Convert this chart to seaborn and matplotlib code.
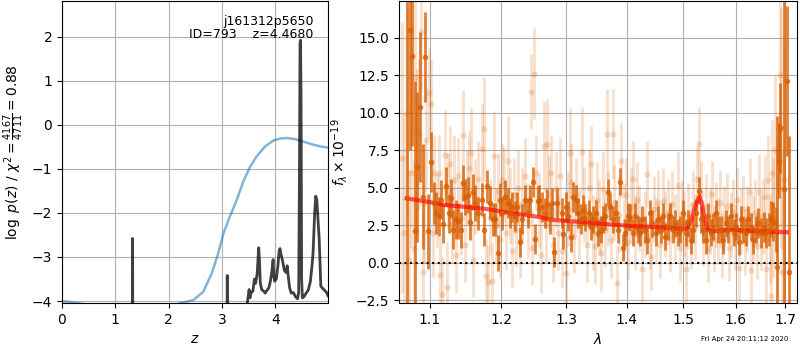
import matplotlib
matplotlib.use("Agg")
import matplotlib.pyplot as plt
import seaborn as sns
import numpy as np
import pandas as pd
from matplotlib.ticker import FixedLocator, FixedFormatter, NullLocator, NullFormatter

# ---------------- data: left panel ----------------
chi_z = [0.0, 0.2, 0.4, 0.6, 1.0, 1.5, 2.0, 2.214, 2.46, 2.65, 2.81, 2.93, 3.03, 3.15,
         3.28, 3.40, 3.53, 3.65, 3.81, 3.96, 4.1, 4.22, 4.35, 4.47, 4.6, 4.71, 4.85, 5.0]
chi_val = [-4.0, -4.03, -4.07, -4.1, -4.14, -4.16, -4.15, -4.05, -3.98, -3.79, -3.37,
           -2.92, -2.46, -2.08, -1.70, -1.29, -0.95, -0.72, -0.49, -0.36, -0.31, -0.30,
           -0.32, -0.36, -0.41, -0.45, -0.49, -0.52]

pz_z = [0.0, 1.30, 1.318, 1.325, 1.332, 1.35, 3.08, 3.093, 3.10, 3.107, 3.12, 3.46, 3.47,
        3.51, 3.525, 3.55, 3.58, 3.61, 3.63, 3.66, 3.69, 3.705, 3.72, 3.75, 3.78, 3.81,
        3.85, 3.88, 3.91, 3.94, 3.96, 3.975, 3.99, 4.02, 4.05, 4.075, 4.09, 4.11, 4.14,
        4.17, 4.20, 4.225, 4.245, 4.27, 4.30, 4.34, 4.38, 4.42, 4.44, 4.455, 4.465, 4.475,
        4.485, 4.495, 4.51, 4.54, 4.58, 4.62, 4.66, 4.69, 4.71, 4.74, 4.76, 4.78, 4.80,
        4.825, 4.855, 4.88, 4.92, 4.96, 4.99]
pz_val = [-9, -9, -9, -2.58, -9, -9, -9, -9, -3.42, -9, -9, -9, -4.1,
          -3.74, -3.93, -3.8, -3.78, -3.5, -3.6, -3.4, -2.79, -3.1, -3.6, -3.75, -3.77, -3.82,
          -3.75, -3.7, -3.55, -3.3, -3.06, -3.45, -3.55, -3.5, -3.2, -2.85, -2.81, -2.95, -3.1,
          -3.3, -3.35, -3.2, -3.45, -3.7, -3.82, -3.81, -3.9, -3.95, -3.8, -1.0, 1.85, 1.92,
          0.5, -3.5, -3.93, -3.9, -3.82, -3.75, -3.55, -3.2, -2.9, -2.0, -1.62, -1.7, -2.1,
          -2.6, -3.66, -3.7, -3.75, -3.8, -3.88]

# ---------------- data: right panel ----------------
wave_dark = [1.069, 1.073, 1.076, 1.080, 1.083, 1.086, 1.090, 1.093, 1.097, 1.101,
             1.105, 1.108, 1.112, 1.115, 1.118, 1.122, 1.126, 1.129, 1.132, 1.135,
             1.138, 1.142, 1.145, 1.148, 1.152, 1.155, 1.160, 1.163, 1.166,
             1.172, 1.175, 1.180, 1.184, 1.188, 1.191, 1.195, 1.198, 1.202, 1.206,
             1.210, 1.213, 1.217, 1.221, 1.224, 1.228, 1.232, 1.236, 1.240, 1.243,
             1.248, 1.251, 1.255, 1.258, 1.262, 1.266, 1.270, 1.274, 1.277, 1.281, 1.285,
             1.293, 1.295, 1.299, 1.303, 1.307, 1.311, 1.315, 1.319, 1.323, 1.327,
             1.331, 1.336, 1.340, 1.344, 1.348, 1.352, 1.356, 1.360, 1.364, 1.368,
             1.372, 1.376, 1.381, 1.385, 1.389, 1.393, 1.397, 1.402, 1.406, 1.410,
             1.415, 1.419, 1.423, 1.427, 1.432, 1.436, 1.440, 1.444, 1.451, 1.455,
             1.460, 1.464, 1.468, 1.473, 1.477, 1.481, 1.486, 1.491, 1.495, 1.500,
             1.505, 1.509, 1.514, 1.519, 1.524, 1.529, 1.533, 1.538, 1.543, 1.547,
             1.552, 1.557, 1.562, 1.566, 1.571, 1.576, 1.581, 1.586, 1.591, 1.596,
             1.601, 1.606, 1.610, 1.615, 1.620, 1.625, 1.630, 1.635, 1.640, 1.645,
             1.650, 1.656, 1.660, 1.666, 1.671, 1.676, 1.681, 1.684, 1.688, 1.690,
             1.697, 1.704, 1.709]
flux_dark = [4.31, 15.5, 13.8, 2.1, 6.4, 10.4, 4.4, 13.7, 2.1, 6.7,
             4.0, 3.3, 3.1, 4.2, 2.6, 5.1, 3.3, 4.3, 2.2, 2.9,
             2.8, 2.2, 5.3, 4.4, 4.5, 2.75, 4.7, 4.0, 3.3,
             4.2, 2.2, 5.1, 4.0, 2.9, 2.9, 0.65, 4.2, 3.3, 4.4,
             4.0, 3.3, 3.75, 3.1, 3.75, 1.4, 2.9, 4.2, 3.3, 4.2,
             5.4, 1.6, 4.1, 4.2, 3.75, 3.3, 3.9, 2.9, 4.0, 0.7, 4.0,
             3.3, 1.9, 3.75, 3.1, 1.75, 4.4, 4.2, 3.3, 2.9, 3.5,
             3.0, 3.3, 2.4, 2.9, 3.3, 2.0, 2.2, 2.9, 3.1, 4.7,
             3.75, 2.9, 3.3, 2.2, 5.4, 1.0, 2.0, 3.1, 3.0, 2.0,
             3.1, 2.2, 2.0, 2.9, 2.2, 1.5, 3.3, 2.65, 2.0, 2.9,
             2.2, 3.1, 1.75, 2.4, 3.1, 2.2, 2.65, 2.0, 2.2, 3.3,
             2.0, 2.65, 1.5, 2.2, 3.3, 4.8, 2.9, 2.2, 1.5, 3.1,
             2.0, 2.4, 3.3, 2.2, 2.2, 1.5, 2.65, 2.2, 3.1, 2.0,
             2.4, 1.4, 2.9, 2.2, 2.0, 2.9, 2.4, 1.5, 2.2, 2.65,
             2.0, 2.4, 2.0, 2.2, 2.9, 2.75, 2.2, -0.25, 6.8, 9.0,
             4.9, 12.1, -0.58]
err_dark = [20, 8, 6, 10, 5, 5, 3.5, 3, 2.5, 2.0,
            1.4, 1.4, 1.3, 1.3, 1.3, 1.3, 1.3, 1.3, 1.3, 1.3,
            1.2, 1.2, 1.2, 1.2, 1.2, 1.2, 1.2, 1.2, 1.1,
            1.1, 1.1, 1.1, 1.1, 1.1, 1.1, 1.2, 1.1, 1.1, 1.1,
            1.0, 1.0, 1.0, 1.0, 1.0, 1.0, 1.0, 1.0, 1.0, 1.0,
            1.0, 1.0, 1.0, 1.0, 1.0, 1.0, 1.0, 1.0, 1.0, 1.0, 1.0,
            1.0, 1.0, 1.0, 1.0, 1.0, 1.0, 1.0, 1.0, 1.0, 1.0,
            0.9, 0.9, 0.9, 0.9, 0.9, 0.9, 0.9, 0.9, 0.9, 0.9,
            0.9, 0.9, 0.9, 0.9, 0.9, 0.9, 0.9, 0.9, 0.9, 0.9,
            0.9, 0.9, 0.9, 0.9, 0.9, 0.9, 0.9, 0.9, 0.9, 0.9,
            0.9, 0.9, 0.9, 0.9, 0.9, 0.9, 0.9, 0.9, 0.9, 0.9,
            0.9, 0.9, 0.9, 0.9, 0.9, 0.9, 0.9, 0.9, 0.9, 0.9,
            0.9, 0.9, 0.9, 0.9, 0.9, 0.9, 0.9, 0.9, 0.9, 0.9,
            0.9, 0.9, 0.9, 0.9, 0.9, 0.9, 0.9, 0.9, 0.9, 1.0,
            1.0, 1.0, 1.0, 1.1, 1.2, 1.3, 1.5, 10, 2.5, 3,
            20, 5, 9]

wave_light = [1.063, 1.066, 1.070, 1.072, 1.075, 1.078, 1.080, 1.083, 1.085, 1.088,
              1.090, 1.092, 1.095, 1.098, 1.101, 1.104,
              1.106, 1.109, 1.112, 1.114, 1.117, 1.120, 1.123, 1.125, 1.128, 1.130,
              1.133, 1.136, 1.139, 1.142, 1.145, 1.148, 1.151, 1.154, 1.157, 1.160,
              1.163, 1.166,
              1.172, 1.175, 1.178, 1.181, 1.184, 1.187, 1.190, 1.193, 1.196, 1.199,
              1.202, 1.205, 1.208, 1.211, 1.214, 1.217, 1.220, 1.223, 1.226, 1.229,
              1.232, 1.236, 1.240, 1.245, 1.247, 1.250, 1.253, 1.257, 1.261, 1.265,
              1.268, 1.270, 1.273, 1.276, 1.279, 1.283, 1.287,
              1.290, 1.294, 1.299, 1.302, 1.306, 1.308, 1.312, 1.316, 1.320, 1.325,
              1.329, 1.333, 1.336, 1.340, 1.343, 1.346, 1.350, 1.353, 1.356, 1.360,
              1.363, 1.366, 1.369, 1.373, 1.376, 1.379, 1.384, 1.387, 1.391, 1.395,
              1.399, 1.403, 1.407, 1.411, 1.415, 1.418,
              1.422, 1.427, 1.431, 1.436, 1.440, 1.443, 1.447, 1.451, 1.455, 1.459,
              1.464, 1.468, 1.472, 1.476, 1.480, 1.485, 1.490, 1.494, 1.498, 1.502,
              1.506, 1.510, 1.514, 1.518, 1.522, 1.526, 1.530, 1.534, 1.538, 1.542,
              1.546, 1.550, 1.554, 1.558, 1.562, 1.566,
              1.570, 1.574, 1.578, 1.583, 1.587, 1.591, 1.595, 1.599, 1.602, 1.607,
              1.611, 1.615, 1.619, 1.623, 1.628, 1.630, 1.634, 1.638, 1.642, 1.647,
              1.651, 1.655, 1.659, 1.661, 1.665, 1.668, 1.670, 1.672, 1.676, 1.680,
              1.684, 1.689, 1.692, 1.694, 1.697]
flux_light = [7.0, 2.0, 10.0, 0.2, 6.0, 0.9, 12.4, 8.9, 8.6, 15.4,
              -0.6, 4.0, 8.2, 11.3, 10.6, 2.0,
              6.0, 3.5, 6.0, -0.8, -2.1, 7.2, -1.6, 4.8, 6.6, 2.5,
              5.5, 0.5, 5.8, 3.0, 8.5, 1.2, 5.0, 6.3, 7.3, 0.2,
              4.4, 5.6,
              7.6, 8.9, -0.9, -1.3, 3.0, -1.2, 7.1, 2.5, 4.8, 1.5,
              5.5, 5.2, 2.0, 6.8, 3.8, 0.8, 4.5, 2.2, 5.0, 1.5,
              3.9, 5.8, 2.8, 11.4, 1.0, 12.6, 6.0, 3.5, 0.5, 7.75,
              2.5, 7.9, 4.6, 6.0, 1.2, 4.9, 2.0,
              5.8, 0.8, -0.7, 3.6, 7.3, 5.4, 1.8, 4.5, 2.5, 7.4,
              3.9, 1.2, 5.0, 6.6, 2.0, 1.1, 4.2, 3.0, 0.65, 4.9,
              2.2, 8.6, 3.6, 1.5, 8.6, 4.0, -1.35, 3.2, 6.8, 2.8,
              4.5, 1.4, 3.8, 5.6, 2.0, 4.2,
              3.0, -0.4, 2.6, 5.9, 1.8, 0.4, 3.6, 2.2, 4.0, 1.2,
              4.1, 2.6, 3.4, 1.6, 3.9, 2.4, 5.2, 1.0, 3.3, 2.6,
              -0.4, 3.1, 1.8, 3.9, 2.4, 5.6, 7.9, 4.6, 2.0, 3.7,
              0.9, 2.8, 4.6, 1.6, 3.2, 2.1,
              4.0, 1.2, 2.9, 3.8, 1.0, 2.5, 3.4, 1.7, 4.2, -0.35,
              2.8, 3.6, 1.4, 2.9, 4.75, -0.5, 2.3, 3.3, 1.1, 4.75,
              2.0, 3.1, 4.4, -0.4, 5.5, 1.6, -2.2, 6.0, 3.0, 7.5,
              2.5, 12.5, 9.0, -0.6, 5.5]
err_light = [9, 8, 7, 6, 5, 6, 5, 4, 5, 4,
             4, 4, 3.5, 3, 3, 3,
             2.5, 2.5, 2.5, 2.5, 2.5, 3, 3, 2.5, 2.5, 2.5,
             3, 2.5, 2.5, 2.5, 3, 2.5, 2.5, 2.5, 3, 2.5,
             2.5, 2.5,
             3, 3.5, 2.5, 2.5, 2.5, 2.5, 3, 2.5, 2.5, 2.5,
             2.5, 2.5, 2.5, 3, 2.5, 2.5, 2.5, 2.5, 2.5, 2.5,
             2.5, 2.5, 2.5, 2.5, 2.5, 3, 2.5, 2.5, 2.5, 3,
             2.5, 3, 2.5, 2.5, 2.5, 2.5, 2.5,
             2.5, 2.5, 2.5, 2.5, 3, 2.5, 2.5, 2.5, 2.5, 3,
             2.5, 2.5, 2.5, 2.5, 2.5, 2.5, 2.5, 2.5, 2.5, 2.5,
             2.5, 3, 2.5, 2.5, 3, 2.5, 2.5, 2.5, 2.5, 2.5,
             2.5, 2.5, 2.5, 2.5, 2.5, 2.5,
             2.2, 2.2, 2.2, 2.2, 2.2, 2.2, 2.2, 2.2, 2.2, 2.2,
             2.2, 2.2, 2.2, 2.2, 2.2, 2.2, 2.2, 2.2, 2.2, 2.2,
             2.2, 2.2, 2.2, 2.2, 2.2, 2.2, 2.5, 2.2, 2.2, 2.2,
             2.2, 2.2, 2.2, 2.2, 2.2, 2.2,
             2.2, 2.2, 2.2, 2.2, 2.2, 2.2, 2.2, 2.2, 2.2, 2.2,
             2.2, 2.2, 2.2, 2.2, 2.2, 2.2, 2.2, 2.2, 2.2, 2.5,
             2.5, 2.5, 2.8, 2.8, 3, 3, 3.5, 3.5, 4, 5,
             6, 6, 8, 8, 9]

model_wave = [1.069, 1.08, 1.10, 1.12, 1.15, 1.18, 1.20, 1.22, 1.245, 1.265, 1.272,
              1.30, 1.33, 1.36, 1.40, 1.43, 1.464, 1.49, 1.504, 1.509, 1.513, 1.516,
              1.519, 1.522, 1.5255, 1.5305, 1.535, 1.538, 1.541, 1.5435, 1.5457, 1.552,
              1.56, 1.58, 1.60, 1.62, 1.656, 1.68, 1.7036]
model_flux = [4.3, 4.2, 4.05, 3.85, 3.72, 3.58, 3.42, 3.28, 3.13, 3.0, 2.88,
              2.8, 2.7, 2.6, 2.47, 2.42, 2.35, 2.28, 2.24, 2.35, 2.64, 2.95,
              3.3, 3.7, 4.09, 4.42, 3.98, 3.4, 2.87, 2.5, 2.24, 2.09,
              2.12, 2.18, 2.2, 2.15, 2.08, 2.06, 2.04]

wave_ticks = [1.1, 1.2, 1.3, 1.4, 1.5, 1.6, 1.7]
wave_tick_labels = ['1.1', '1.2', '1.3', '1.4', '1.5', '1.6', '1.7']

# ---------------- figure ----------------
fig = plt.figure(figsize=(8, 3.5), dpi=100)
ax1 = fig.add_axes([62/800, 47/350, 266/800, 302/350])
ax2 = fig.add_axes([399/800, 47/350, 398/800, 302/350])

orange = '#d95f02'

# left panel
sns.lineplot(x=chi_z, y=chi_val, ax=ax1, color='#1f77b4', alpha=0.55, lw=1.8,
             sort=False, estimator=None)
sns.lineplot(x=pz_z, y=pz_val, ax=ax1, color='black', alpha=0.75, lw=2,
             sort=False, estimator=None)
ax1.set_xlim(0, 4.99)
ax1.set_ylim(-4.045, 2.81)
ax1.set_yticks([-4, -3, -2, -1, 0, 1, 2])
ax1.set_xticks([0, 1, 2, 3, 4])
ax1.grid(True, color='#b0b0b0', lw=0.8)
ax1.set_xlabel(r'$z$')
ax1.set_ylabel(r'$\log\ p(z)$ / $\chi^2=\frac{4167}{4711}=0.88$')
ax1.text(0.945, 0.955, 'j161312p5650\nID=793    z=4.4680', transform=ax1.transAxes,
         ha='right', va='top', fontsize=9, linespacing=1.0)

# right panel
ax2.errorbar(wave_light, flux_light, yerr=err_light, fmt='o', color=orange,
             alpha=0.2, ms=4.5, elinewidth=2, capsize=0, mew=0)
ax2.errorbar(wave_dark, flux_dark, yerr=err_dark, fmt='o', color=orange,
             alpha=0.8, ms=4, elinewidth=2, capsize=0, mew=0)
sns.lineplot(x=model_wave, y=model_flux, ax=ax2, color='red', alpha=0.65, lw=3,
             sort=False, estimator=None)
ax2.axhline(0, color='black', ls=':', lw=1.5)
ax2.set_xscale('log')
ax2.set_xlim(1.059, 1.725)
ax2.xaxis.set_major_locator(FixedLocator(wave_ticks))
ax2.xaxis.set_major_formatter(FixedFormatter(wave_tick_labels))
ax2.xaxis.set_minor_locator(NullLocator())
ax2.xaxis.set_minor_formatter(NullFormatter())
ax2.set_ylim(-2.67, 17.43)
ax2.set_yticks([-2.5, 0, 2.5, 5, 7.5, 10, 12.5, 15])
ax2.grid(True, color='#b0b0b0', lw=0.8)
ax2.set_xlabel(r'$\lambda$')
ax2.set_ylabel(r'$f_\lambda\times10^{-19}$')

fig.text(0.985, 0.022, 'Fri Apr 24 20:11:12 2020', ha='right', va='bottom', fontsize=5)

fig.savefig('out.png', dpi=100)
